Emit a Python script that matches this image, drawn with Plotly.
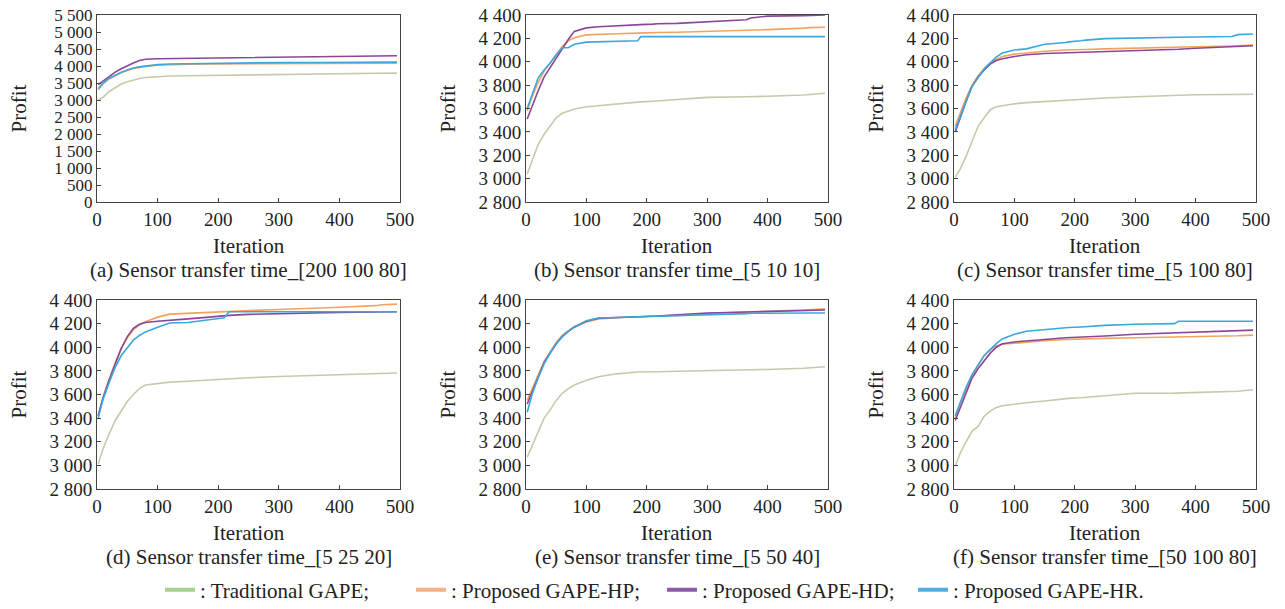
import plotly.graph_objects as go
from plotly.subplots import make_subplots

# iteration grid shared by every curve
iterations = [2, 10, 20, 30, 40, 50, 60, 70, 80, 100, 120, 150, 185, 190, 210, 218,
              250, 300, 365, 372, 400, 460, 470, 495]

series_names = [": Traditional GAPE;", ": Proposed GAPE-HP;", ": Proposed GAPE-HD;", ": Proposed GAPE-HR."]

captions = [
    "(a) Sensor transfer time_[200 100 80]",
    "(b) Sensor transfer time_[5 10 10]",
    "(c) Sensor transfer time_[5 100 80]",
    "(d) Sensor transfer time_[5 25 20]",
    "(e) Sensor transfer time_[5 50 40]",
    "(f) Sensor transfer time_[50 100 80]",
]

# (a) [200 100 80]
a_gape = [3000, 3080, 3250, 3360, 3470, 3540, 3590, 3630, 3660, 3690, 3705, 3715, 3725, 3725, 3730, 3735, 3740, 3760, 3770, 3770, 3775, 3785, 3785, 3790]
a_hp = [3300, 3480, 3620, 3720, 3800, 3870, 3930, 3960, 3990, 4020, 4040, 4050, 4060, 4060, 4065, 4065, 4070, 4070, 4075, 4075, 4075, 4080, 4080, 4080]
a_hd = [3450, 3560, 3700, 3820, 3920, 4010, 4090, 4160, 4200, 4215, 4220, 4225, 4235, 4235, 4240, 4240, 4250, 4260, 4270, 4270, 4280, 4290, 4295, 4300]
a_hr = [3330, 3500, 3640, 3740, 3820, 3880, 3940, 3975, 4000, 4040, 4060, 4070, 4080, 4080, 4085, 4090, 4095, 4100, 4105, 4105, 4110, 4110, 4115, 4115]

# (b) [5 10 10]
b_gape = [3040, 3150, 3290, 3380, 3450, 3520, 3560, 3580, 3595, 3615, 3625, 3640, 3655, 3657, 3662, 3665, 3675, 3695, 3700, 3702, 3705, 3715, 3720, 3730]
b_hp = [3580, 3700, 3820, 3920, 3990, 4060, 4130, 4180, 4205, 4230, 4235, 4240, 4245, 4245, 4248, 4250, 4252, 4258, 4268, 4270, 4275, 4288, 4292, 4295]
b_hd = [3510, 3620, 3750, 3870, 3950, 4040, 4120, 4190, 4260, 4290, 4300, 4305, 4315, 4318, 4322, 4325, 4328, 4340, 4360, 4375, 4390, 4395, 4398, 4400]
b_hr = [3600, 3720, 3860, 3930, 3990, 4060, 4120, 4120, 4150, 4168, 4170, 4175, 4180, 4215, 4215, 4215, 4215, 4215, 4215, 4215, 4215, 4215, 4215, 4215]

# (c) [5 100 80]
c_gape = [3010, 3080, 3190, 3320, 3450, 3520, 3590, 3615, 3625, 3640, 3650, 3660, 3672, 3675, 3680, 3682, 3690, 3700, 3710, 3712, 3718, 3720, 3722, 3722]
c_hp = [3450, 3560, 3690, 3800, 3880, 3940, 3990, 4020, 4045, 4065, 4075, 4090, 4100, 4100, 4102, 4105, 4110, 4118, 4125, 4125, 4128, 4135, 4138, 4142]
c_hd = [3400, 3520, 3660, 3790, 3870, 3930, 3980, 4010, 4025, 4045, 4060, 4070, 4075, 4076, 4078, 4080, 4085, 4095, 4105, 4107, 4115, 4125, 4130, 4137]
c_hr = [3420, 3520, 3660, 3790, 3870, 3940, 3990, 4040, 4075, 4100, 4110, 4150, 4165, 4170, 4180, 4185, 4198, 4205, 4208, 4210, 4212, 4216, 4232, 4238]

# (d) [5 25 20]
d_gape = [3010, 3140, 3265, 3380, 3460, 3540, 3600, 3650, 3680, 3692, 3705, 3712, 3722, 3725, 3732, 3735, 3742, 3752, 3762, 3764, 3768, 3775, 3777, 3782]
d_hp = [3420, 3580, 3730, 3870, 3990, 4080, 4150, 4190, 4215, 4255, 4280, 4288, 4295, 4296, 4300, 4302, 4310, 4320, 4330, 4332, 4338, 4352, 4360, 4365]
d_hd = [3420, 3570, 3720, 3860, 3990, 4090, 4160, 4195, 4210, 4220, 4230, 4240, 4255, 4258, 4265, 4270, 4278, 4285, 4292, 4293, 4295, 4298, 4300, 4300]
d_hr = [3400, 3560, 3700, 3830, 3930, 4000, 4060, 4100, 4130, 4170, 4205, 4210, 4235, 4240, 4250, 4300, 4300, 4300, 4300, 4300, 4300, 4300, 4300, 4300]

# (e) [5 50 40]
e_gape = [3070, 3160, 3280, 3400, 3470, 3550, 3610, 3650, 3680, 3720, 3750, 3775, 3790, 3790, 3792, 3793, 3797, 3800, 3805, 3806, 3812, 3822, 3825, 3835]
e_hp = [3550, 3640, 3760, 3880, 3960, 4040, 4100, 4140, 4175, 4215, 4240, 4250, 4260, 4260, 4262, 4264, 4270, 4285, 4298, 4300, 4305, 4315, 4318, 4325]
e_hd = [3520, 3620, 3750, 3870, 3950, 4030, 4090, 4135, 4170, 4220, 4245, 4250, 4258, 4260, 4262, 4264, 4275, 4290, 4298, 4299, 4302, 4308, 4310, 4315]
e_hr = [3450, 3600, 3740, 3860, 3950, 4030, 4090, 4135, 4170, 4225, 4248, 4252, 4258, 4260, 4262, 4263, 4268, 4278, 4285, 4288, 4290, 4290, 4290, 4290]

# (f) [50 100 80]
f_gape = [2990, 3100, 3200, 3290, 3330, 3415, 3460, 3490, 3505, 3520, 3530, 3545, 3565, 3567, 3572, 3575, 3590, 3610, 3612, 3613, 3618, 3625, 3628, 3640]
f_hp = [3400, 3520, 3640, 3760, 3850, 3930, 3980, 4010, 4025, 4035, 4045, 4055, 4065, 4066, 4068, 4070, 4075, 4080, 4085, 4086, 4090, 4095, 4097, 4103]
f_hd = [3380, 3480, 3620, 3740, 3820, 3890, 3950, 4000, 4030, 4045, 4055, 4065, 4080, 4081, 4085, 4087, 4095, 4110, 4120, 4122, 4128, 4140, 4142, 4145]
f_hr = [3420, 3530, 3660, 3770, 3850, 3930, 3980, 4030, 4070, 4110, 4135, 4150, 4165, 4167, 4172, 4175, 4185, 4195, 4200, 4220, 4220, 4220, 4220, 4220]

panels = [
    [a_gape, a_hp, a_hd, a_hr],
    [b_gape, b_hp, b_hd, b_hr],
    [c_gape, c_hp, c_hd, c_hr],
    [d_gape, d_hp, d_hd, d_hr],
    [e_gape, e_hp, e_hd, e_hr],
    [f_gape, f_hp, f_hd, f_hr],
]

x_ticks = [0, 100, 200, 300, 400, 500]
y_ticks_a = [0, 500, 1000, 1500, 2000, 2500, 3000, 3500, 4000, 4500, 5000, 5500]
y_ticks = [2800, 3000, 3200, 3400, 3600, 3800, 4000, 4200, 4400]

line_colors = ["#c3ccaa", "#f3a35f", "#8a4799", "#3aa8dc"]
legend_colors = ["#a9d18e", "#f4b183", "#8e5aa6", "#4eaee0"]

FONT = "Liberation Serif"
W, H = 1285, 609

def fmt(v):
    return f"{v:,}".replace(",", " ")

fig = make_subplots(rows=2, cols=3)

# subplot positions in pixels: (left, right, top, bottom)
boxes = [
    (97, 400, 15, 202), (526, 828, 15, 202), (954, 1256, 15, 202),
    (97, 400, 300, 489), (526, 828, 300, 489), (954, 1256, 300, 489),
]

axis_style = dict(showline=True, mirror=True, linecolor="#444", linewidth=1,
                  ticks="inside", ticklen=4, tickcolor="#444", showgrid=False,
                  zeroline=False, tickfont=dict(size=19))
fig.update_xaxes(**axis_style)
fig.update_yaxes(**axis_style)

for i, series in enumerate(panels):
    r, c = i // 3 + 1, i % 3 + 1
    for j, ys in enumerate(series):
        fig.add_trace(go.Scatter(
            x=iterations, y=ys, mode="lines",
            line=dict(color=line_colors[j], width=1.6),
            showlegend=False, hoverinfo="skip",
        ), row=r, col=c)

    l, rt, t, b = boxes[i]
    ax = "" if i == 0 else str(i + 1)
    yt = y_ticks_a if i == 0 else y_ticks
    fig.layout["xaxis" + ax].update(
        domain=[l / W, rt / W], range=[0, 500],
        tickvals=x_ticks, ticktext=[str(v) for v in x_ticks],
    )
    fig.layout["yaxis" + ax].update(
        domain=[1 - b / H, 1 - t / H],
        range=[0, 5500] if i == 0 else [2800, 4400],
        tickvals=yt, ticktext=[fmt(v) for v in yt],
        tickfont=dict(size=17 if i == 0 else 19),
    )
    xr = "x" + ax + " domain"
    yr = "y" + ax + " domain"
    fig.add_annotation(text="Profit", xref=xr, yref=yr, x=0, y=0.5, xshift=-79,
                       xanchor="center", yanchor="middle",
                       textangle=-90, showarrow=False, font=dict(size=21))
    fig.add_annotation(text="Iteration", xref=xr, yref=yr, x=0.5, y=0, yshift=-44,
                       xanchor="center", yanchor="middle",
                       showarrow=False, font=dict(size=21))
    fig.add_annotation(text=captions[i], xref=xr, yref=yr, x=0.5, y=0, yshift=-68,
                       xanchor="center", yanchor="middle",
                       showarrow=False, font=dict(size=21))

# legend entries
for j, name in enumerate(series_names):
    fig.add_trace(go.Scatter(
        x=[None], y=[None], mode="lines", name=name,
        line=dict(color=legend_colors[j], width=4),
    ), row=1, col=1)

fig.update_layout(
    width=W, height=H,
    margin=dict(l=0, r=0, t=0, b=0, autoexpand=False),
    paper_bgcolor="white", plot_bgcolor="white",
    font=dict(family=FONT, color="#222", size=19),
    legend=dict(orientation="h", x=160 / W, xanchor="left", y=1 - 590 / H, yanchor="middle",
                font=dict(size=21), itemwidth=30, entrywidth=206),
)

fig.write_html("out.html", config={"displayModeBar": False},
               post_script="document.body.style.margin='0';")
